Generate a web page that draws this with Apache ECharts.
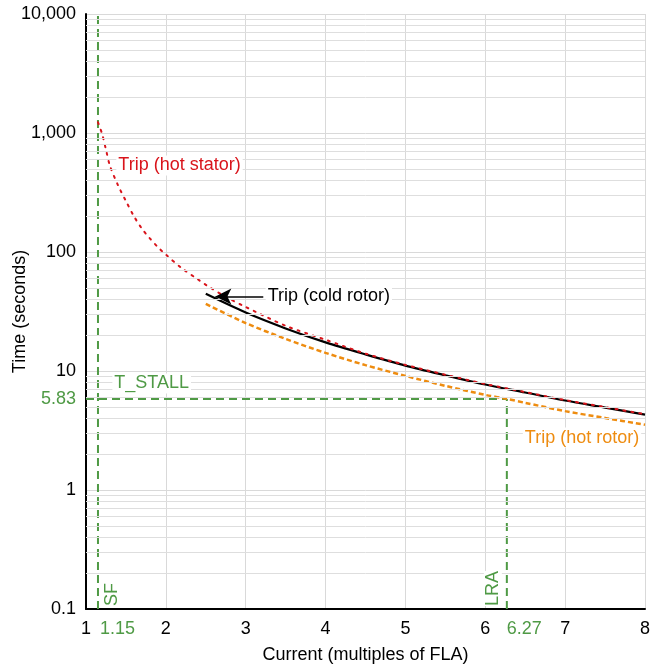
<!DOCTYPE html>
<html>
<head>
<meta charset="utf-8">
<script src="https://cdn.jsdelivr.net/npm/echarts@6/dist/echarts.min.js"></script>
<style>
  html, body { margin: 0; padding: 0; background: #fff; }
  #main { width: 659px; height: 669px; }
</style>
</head>
<body>
<div id="main"></div>
<script>
// 曲线数据
var statorX = [1.15, 1.2, 1.25, 1.3, 1.4, 1.5, 1.6, 1.7, 1.8, 1.9, 2.0, 2.2, 2.4, 2.5, 2.75, 3.0, 3.5, 4.0, 4.5, 5.0, 5.5, 6.0, 6.5, 7.0, 7.5, 8.0];
var statorT = [1230, 990, 725, 530, 365, 268, 200, 157, 130, 110, 95, 73, 59, 53, 42, 34.5, 24, 18.3, 14.0, 11.25, 9.3, 7.78, 6.65, 5.7, 4.97, 4.33];

var coldX = [2.5, 3.0, 3.5, 4.0, 4.5, 5.0, 5.5, 6.0, 6.5, 7.0, 7.5, 8.0];
var coldT = [44.5, 31, 22.8, 17.4, 13.8, 11.1, 9.2, 7.7, 6.6, 5.65, 4.93, 4.3];

var hotX = [2.5, 3.0, 3.5, 4.0, 4.5, 5.0, 5.5, 6.0, 6.27, 6.5, 7.0, 7.5, 8.0];
var hotT = [36.7, 25.3, 18.6, 14.2, 11.2, 9.1, 7.5, 6.3, 5.83, 5.4, 4.6, 4.03, 3.53];

// 参考线
var sfX = 1.15;
var lraX = 6.27;
var tStall = 5.83;
var xTicks = [1, 2, 3, 4, 5, 6, 7, 8];
var yTicks = [0.1, 1, 10, 100, 1000, 10000];

function zip(a, b) {
  return a.map(function (v, i) { return [v, b[i]]; });
}

// 对数轴的次网格线 2..9
var minorLines = [];
yTicks.slice(0, -1).forEach(function (d) {
  for (var k = 2; k <= 9; k++) minorLines.push({ yAxis: +(d * k).toPrecision(3) });
});

var FONT = 'Liberation Sans, Arial, sans-serif';
var FS = 18;
var GREEN = '#4f9a45';
var RED = '#d9141b';
var ORANGE = '#ee8c10';

var myChart = echarts.init(document.getElementById('main'));

function note(coord, text, color, label) {
  return {
    coord: coord,
    symbol: 'circle',
    symbolSize: 0,
    itemStyle: { color: 'transparent' },
    label: Object.assign({
      show: true,
      formatter: text,
      color: color,
      fontSize: FS,
      fontFamily: FONT
    }, label || {})
  };
}

var option = {
  animation: false,
  backgroundColor: '#fff',
  grid: { left: 86, right: 14, top: 14, bottom: 60, containLabel: false, outerBoundsMode: 'none' },
  xAxis: {
    type: 'value',
    min: xTicks[0],
    max: xTicks[xTicks.length - 1],
    interval: 1,
    name: 'Current (multiples of FLA)',
    nameLocation: 'middle',
    nameGap: 37,
    nameMoveOverlap: false,
    nameTextStyle: { fontSize: FS, color: '#000', fontFamily: FONT },
    axisLine: { show: true, onZero: false, lineStyle: { color: '#000', width: 2 } },
    axisTick: { show: false },
    axisLabel: { fontSize: FS, color: '#000', fontFamily: FONT, margin: 11 },
    splitLine: { show: true, lineStyle: { color: '#d9d9d9', width: 1 } }
  },
  yAxis: {
    type: 'log',
    logBase: 10,
    min: yTicks[0],
    max: yTicks[yTicks.length - 1],
    name: 'Time (seconds)',
    nameLocation: 'middle',
    nameGap: 57,
    nameMoveOverlap: false,
    nameTextStyle: { fontSize: FS, color: '#000', fontFamily: FONT },
    axisLine: { show: true, onZero: false, lineStyle: { color: '#000', width: 2 } },
    axisTick: { show: false },
    axisLabel: {
      fontSize: FS, color: '#000', fontFamily: FONT, margin: 10,
      formatter: function (v) {
        if (v < 1) return String(+v.toFixed(1));
        return Math.round(v).toLocaleString('en-US');
      }
    },
    splitLine: { show: true, lineStyle: { color: '#d9d9d9', width: 1 } }
  },
  series: [
    {
      name: 'minor',
      type: 'line',
      data: [],
      z: 0,
      markLine: {
        silent: true,
        symbol: ['none', 'none'],
        label: { show: false },
        lineStyle: { color: '#dedede', width: 1, type: 'solid' },
        data: minorLines
      }
    },
    {
      name: 'SF',
      type: 'line',
      symbol: 'none',
      clip: false,
      z: 1,
      data: [[sfX, yTicks[0]], [sfX, yTicks[yTicks.length - 1]]],
      lineStyle: { color: GREEN, width: 2, type: [8, 5] },
      markPoint: {
        data: [
          note([sfX, yTicks[0]], 'SF', GREEN, { rotate: 90, position: [14, -3], align: 'left', verticalAlign: 'middle', backgroundColor: '#fff' }),
          note([sfX, yTicks[0]], String(sfX), GREEN, { position: [2, 11], align: 'left', verticalAlign: 'top' })
        ]
      }
    },
    {
      name: 'T_STALL',
      type: 'line',
      symbol: 'none',
      clip: false,
      z: 1,
      data: [[xTicks[0], tStall], [lraX, tStall]],
      lineStyle: { color: GREEN, width: 2, type: [8, 5] },
      markPoint: {
        data: [
          note([1.33, 7.85], 'T_STALL', GREEN, { position: 'right', distance: 0, backgroundColor: '#fff', padding: [1, 2] }),
          note([xTicks[0], tStall], String(tStall), GREEN, { position: 'left', distance: 10 })
        ]
      }
    },
    {
      name: 'LRA',
      type: 'line',
      symbol: 'none',
      clip: false,
      z: 1,
      data: [[lraX, yTicks[0]], [lraX, tStall]],
      lineStyle: { color: GREEN, width: 2, type: [8, 5] },
      markPoint: {
        data: [
          note([lraX, yTicks[0]], 'LRA', GREEN, { rotate: 90, position: [-14, -3], align: 'left', verticalAlign: 'middle', backgroundColor: '#fff' }),
          note([lraX, yTicks[0]], String(lraX), GREEN, { position: [0, 11], align: 'left', verticalAlign: 'top' })
        ]
      }
    },
    {
      name: 'Trip (hot rotor)',
      type: 'line',
      symbol: 'none',
      smooth: 0.3,
      z: 2,
      data: zip(hotX, hotT),
      lineStyle: { color: ORANGE, width: 2.5, type: [5, 3] },
      markPoint: {
        data: [note([6.47, 2.76], 'Trip (hot rotor)', ORANGE, { position: 'right', distance: 0, backgroundColor: '#fff', padding: [1, 2] })]
      }
    },
    {
      name: 'Trip (cold rotor)',
      type: 'line',
      symbol: 'none',
      smooth: 0.3,
      z: 3,
      data: zip(coldX, coldT),
      lineStyle: { color: '#000', width: 2.2 },
      markLine: {
        silent: true,
        symbol: ['none', 'arrow'],
        symbolSize: [12, 16],
        label: { show: false },
        lineStyle: { color: '#000', width: 1.5, type: 'solid' },
        data: [[{ coord: [3.22, 42.3] }, { coord: [2.62, 42.3] }]]
      },
      markPoint: {
        data: [note([3.25, 42.3], 'Trip (cold rotor)', '#000', { position: 'right', distance: 0, backgroundColor: '#fff', padding: [1, 2] })]
      }
    },
    {
      name: 'Trip (hot stator)',
      type: 'line',
      symbol: 'none',
      smooth: 0.3,
      z: 4,
      data: zip(statorX, statorT),
      lineStyle: { color: RED, width: 2, type: [2, 6], cap: 'round' },
      markPoint: {
        data: [note([1.38, 533], 'Trip (hot stator)', RED, { position: 'right', distance: 0, backgroundColor: '#fff', padding: [1, 2] })]
      }
    }
  ]
};

myChart.setOption(option);
</script>
</body>
</html>
